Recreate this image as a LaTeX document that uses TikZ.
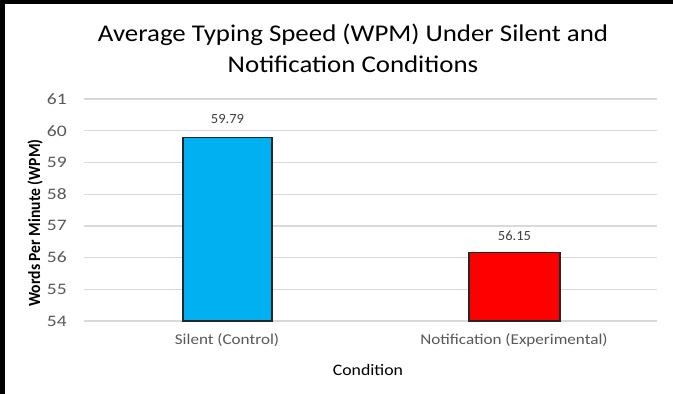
\documentclass[tikz,border=0pt]{standalone}
\usepackage{fontspec}
\setmainfont{Carlito}
\definecolor{barblue}{HTML}{00B0F0}
\definecolor{barred}{HTML}{FF0000}
\definecolor{gridc}{HTML}{D9D9D9}
\definecolor{tickc}{HTML}{595959}
\definecolor{lblc}{HTML}{404040}
\begin{document}
\begin{tikzpicture}[x=1pt,y=-1pt,
  tick/.style={anchor=east,text=tickc,font=\fontsize{16}{18}\selectfont,inner sep=0pt,xscale=1.22},
  cat/.style={text=tickc,font=\fontsize{15}{17}\selectfont,inner sep=0pt,xscale=1.14},
  vlabel/.style={text=lblc,font=\fontsize{14}{16}\selectfont,inner sep=0pt,xscale=1.04},
  bar/.style={draw=black!85,line width=1.2pt},
  grid/.style={draw=gridc,line width=1.3pt}]
\useasboundingbox (0,0) rectangle (673,394);
\fill[white] (0,0) rectangle (673,394);
\fill[black] (0,0) rectangle (673,3.5);
\fill[black] (0,0) rectangle (4.5,394);
% title
\node[font=\fontsize{24}{31}\selectfont,align=center,inner sep=0pt,xscale=1.12] (title) at (353,48)
  {Average Typing Speed (WPM) Under Silent and\\Notification Conditions};
% grid and ticks
\foreach \v [count=\i from 0] in {54,55,56,57,58,59,60,61} {
  \coordinate (gl\v) at (84,{321-31.71*\i});
  \coordinate (gr\v) at (657,{321-31.71*\i});
  \draw[grid] (gl\v) -- (gr\v);
  \node[tick] (t\v) at (67,{321-31.71*\i}) {\v};
}
% bars
\path[bar,fill=barblue] (183,321) rectangle (272,137.4);
\path[bar,fill=barred] (469,321) rectangle (560,252.8);
\node[vlabel] (v1) at (227.5,119) {59.79};
\node[vlabel] (v2) at (514.5,236) {56.15};
% category labels
\node[cat] (c1) at (227,340.5) {Silent (Control)};
\node[cat] (c2) at (514,340.5) {Notification (Experimental)};
% axis titles
\node[font=\fontsize{16}{18}\selectfont,inner sep=0pt,xscale=1.11] (xt) at (368,370) {Condition};
\node[font=\bfseries\fontsize{17}{19}\selectfont,inner sep=0pt,rotate=90,xscale=0.92] (yt) at (35,223) {Words Per Minute (WPM)};
\end{tikzpicture}
\end{document}
